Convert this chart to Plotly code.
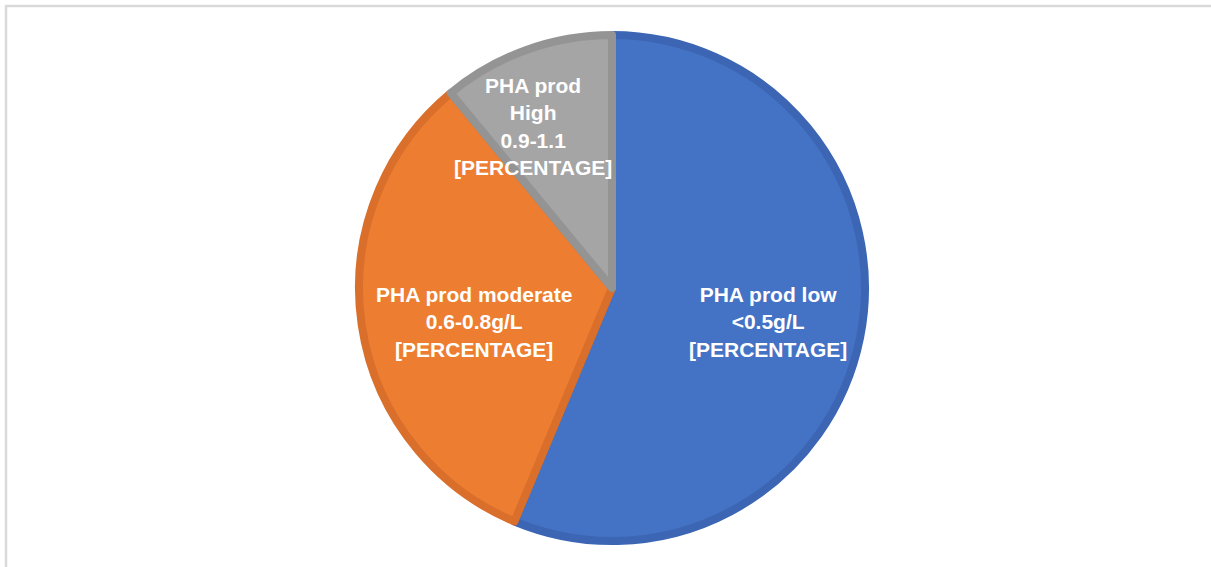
import plotly.graph_objects as go

categories = ["PHA prod low<br><0.5g/L<br>[PERCENTAGE]",
              "PHA prod moderate<br>0.6-0.8g/L<br>[PERCENTAGE]",
              "PHA prod<br>High<br>0.9-1.1<br>[PERCENTAGE]"]
values = [56.3, 32.7, 11.0]
fill_colors = ["#4472C4", "#ED7D31", "#A5A5A5"]
line_colors = ["#3C66B3", "#D96F2A", "#949494"]

W, H = 1211, 567
fig = go.Figure(go.Pie(
    values=values,
    labels=categories,
    sort=False,
    direction="clockwise",
    rotation=0,
    textinfo="none",
    hoverinfo="label+value",
    marker=dict(colors=fill_colors, line=dict(color=line_colors, width=8)),
    domain=dict(x=[358 / W, 866 / W], y=[(H - 541) / H, (H - 35) / H]),
    showlegend=False,
))

label_pos = [(768, 322), (474, 322), (533, 126)]
for text, (px, py) in zip(categories, label_pos):
    fig.add_annotation(x=px / W, y=1 - py / H, xref="paper", yref="paper",
                       text="<b>" + text.replace("<br>", "</b><br><b>") + "</b>",
                       showarrow=False, align="center",
                       font=dict(family="Liberation Sans, Arial", size=21, color="white"),
                       xanchor="center", yanchor="middle")

fig.add_shape(type="line", xref="paper", yref="paper", x0=5 / W, x1=1, y0=1 - 6 / H, y1=1 - 6 / H,
              line=dict(color="#D9D9D9", width=2.5))
fig.add_shape(type="line", xref="paper", yref="paper", x0=6 / W, x1=6 / W, y0=0, y1=1 - 6 / H,
              line=dict(color="#D9D9D9", width=2.5))

fig.update_layout(width=W, height=H, margin=dict(l=0, r=0, t=0, b=0),
                  paper_bgcolor="white", plot_bgcolor="white")
fig.write_html("out.html", config={"displayModeBar": False},
               post_script="document.body.style.margin='0';document.body.style.padding='0';")
